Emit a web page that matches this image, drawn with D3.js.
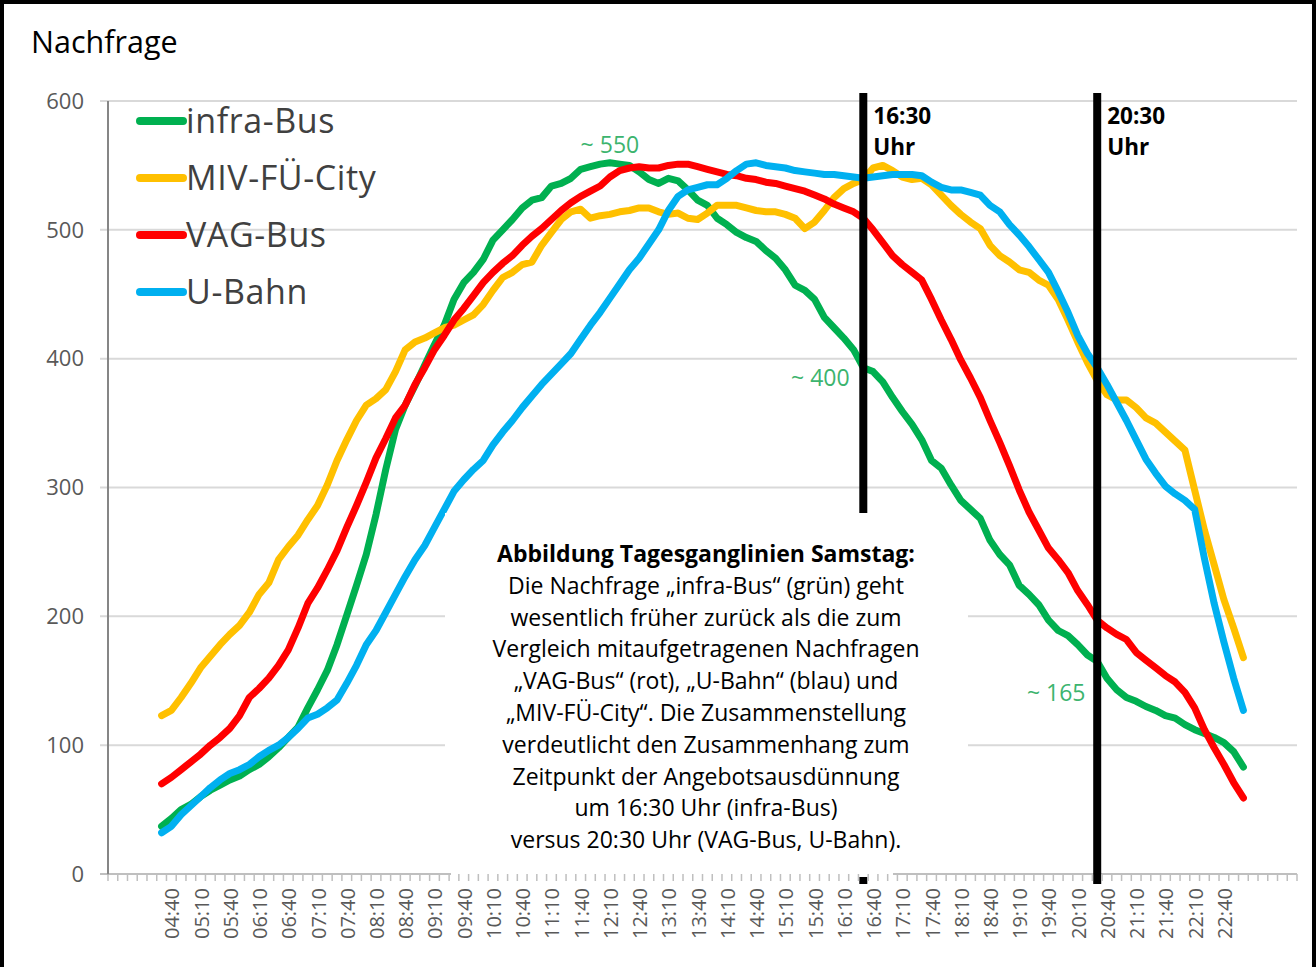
<!DOCTYPE html>
<html><head><meta charset="utf-8">
<script src="https://cdn.jsdelivr.net/npm/d3@7"></script>
<style>
body{margin:0;background:#fff}
svg{display:block}
text{font-family:"Open Sans","Noto Sans",sans-serif}
</style>
</head><body>
<svg id="chart" width="1316" height="967"></svg>
<script>
// ---- data ----
const categories = [
"04:30","04:40","04:50","05:00","05:10","05:20","05:30","05:40","05:50","06:00",
"06:10","06:20","06:30","06:40","06:50","07:00","07:10","07:20","07:30","07:40",
"07:50","08:00","08:10","08:20","08:30","08:40","08:50","09:00","09:10","09:20",
"09:30","09:40","09:50","10:00","10:10","10:20","10:30","10:40","10:50","11:00",
"11:10","11:20","11:30","11:40","11:50","12:00","12:10","12:20","12:30","12:40",
"12:50","13:00","13:10","13:20","13:30","13:40","13:50","14:00","14:10","14:20",
"14:30","14:40","14:50","15:00","15:10","15:20","15:30","15:40","15:50","16:00",
"16:10","16:20","16:30","16:40","16:50","17:00","17:10","17:20","17:30","17:40",
"17:50","18:00","18:10","18:20","18:30","18:40","18:50","19:00","19:10","19:20",
"19:30","19:40","19:50","20:00","20:10","20:20","20:30","20:40","20:50","21:00",
"21:10","21:20","21:30","21:40","21:50","22:00","22:10","22:20","22:30","22:40",
"22:50","23:00"];

const infraBus = [
37,43,50,54,60,65,69,73,76,81,
85,91,98,106,114,129,143,158,178,201,
224,248,279,314,345,364,379,395,411,426,
446,459,467,477,492,500,508,517,523,525,
534,536,540,547,549,551,552,551,550,545,
539,536,540,538,531,523,519,509,504,498,
494,491,484,478,469,457,453,446,432,424,
416,407,393,390,382,370,359,349,337,321,
315,302,290,283,276,259,248,240,224,217,
209,197,189,185,178,170,165,152,143,137,
134,130,127,123,121,116,112,109,106,102,
95,83];

const mivFuCity = [
123,127,137,148,160,169,178,186,193,203,
217,226,244,254,263,275,286,302,321,337,
352,364,369,376,390,407,413,416,420,424,
426,430,434,442,453,463,467,473,475,488,
498,508,514,516,509,511,512,514,515,517,
517,514,512,513,509,508,513,519,519,519,
517,515,514,514,512,509,501,506,515,525,
532,536,539,548,550,546,541,539,540,535,
527,519,512,506,501,488,480,475,469,467,
461,457,446,430,413,397,383,372,368,368,
362,354,350,343,336,329,298,267,240,213,
191,168];

const vagBus = [
70,75,81,87,93,100,106,113,123,137,
144,152,162,174,191,210,222,236,251,269,
286,304,323,338,354,364,380,393,407,418,
430,439,449,459,467,474,480,488,495,501,
508,515,521,526,530,534,541,546,548,549,
548,548,550,551,551,549,547,545,543,542,
540,539,537,536,534,532,530,527,524,520,
517,514,509,500,490,480,473,467,461,446,
430,415,399,385,370,352,335,317,298,281,
267,253,244,234,220,209,197,191,186,182,
172,166,160,154,149,141,129,112,98,85,
71,59];

const uBahn = [
32,37,46,53,60,67,73,78,81,85,
91,96,100,106,113,121,124,129,135,148,
162,178,189,203,217,231,244,255,269,283,
297,306,314,321,333,343,352,362,371,380,
388,396,404,415,426,436,447,458,469,478,
489,500,515,526,531,533,535,535,540,546,
551,552,550,549,548,546,545,544,543,543,
542,541,540,541,542,543,543,543,542,537,
533,531,531,529,527,519,514,504,496,487,
477,467,452,436,418,404,393,380,366,352,
337,322,311,301,295,290,283,245,210,180,
152,127];

const seriesNames = ["infra-Bus","MIV-FÜ-City","VAG-Bus","U-Bahn"];
const seriesColors = ["#00b050","#ffc000","#ff0000","#00b0f0"];
const tickLabels = ["04:40","05:10","05:40","06:10","06:40","07:10","07:40","08:10","08:40","09:10",
"09:40","10:10","10:40","11:10","11:40","12:10","12:40","13:10","13:40","14:10","14:40","15:10",
"15:40","16:10","16:40","17:10","17:40","18:10","18:40","19:10","19:40","20:10","20:40","21:10",
"21:40","22:10","22:40"];
const yTicks = [0,100,200,300,400,500,600];
const markerTimes = ["16:30","20:30"];
const calloutTimes = ["12:10","16:30","20:30"];
const calloutTexts = ["~ 550","~ 400","~ 165"];
const noteLines = [
"Abbildung Tagesganglinien Samstag:",
"Die Nachfrage „infra-Bus“ (grün) geht",
"wesentlich früher zurück als die zum",
"Vergleich mitaufgetragenen Nachfragen",
"„VAG-Bus“ (rot), „U-Bahn“ (blau) und",
"„MIV-FÜ-City“. Die Zusammenstellung",
"verdeutlicht den Zusammenhang zum",
"Zeitpunkt der Angebotsausdünnung",
"um 16:30 Uhr (infra-Bus)",
"versus 20:30 Uhr (VAG-Bus, U-Bahn)."];

// ---- helpers ----
const toMin = s => { const [h,m] = s.split(":").map(Number); return h*60+m; };
const svg = d3.select("#chart");
const x = d3.scaleLinear().domain([215,1435]).range([108,1297]);
const y = d3.scaleLinear().domain([0,600]).range([874,101]);

// frame
svg.append("rect").attr("x",2).attr("y",2).attr("width",1312).attr("height",980)
  .attr("fill","#fff").attr("stroke","#000").attr("stroke-width",4);

// title
svg.append("text").attr("x",31).attr("y",53).attr("font-size",30.5).attr("fill","#000").text("Nachfrage");

// gridlines
svg.append("g").selectAll("line").data(yTicks.filter(d=>d>0)).join("line")
  .attr("x1",100).attr("x2",1297).attr("y1",d=>y(d)).attr("y2",d=>y(d))
  .attr("stroke","#d9d9d9").attr("stroke-width",2);

// y labels
svg.append("g").selectAll("text").data(yTicks).join("text")
  .attr("x",84).attr("y",d=>y(d)).attr("dy","0.35em").attr("text-anchor","end")
  .attr("font-size",22).attr("fill","#595959").text(d=>d);

// axes
svg.append("line").attr("x1",100).attr("x2",1297).attr("y1",y(0)).attr("y2",y(0))
  .attr("stroke","#bfbfbf").attr("stroke-width",2);
svg.append("line").attr("x1",108).attr("x2",108).attr("y1",y(600)).attr("y2",y(0)+1)
  .attr("stroke","#868686").attr("stroke-width",2);

// series
const line = d3.line().x((d,i)=>x(toMin(categories[i]))).y(d=>y(d));
const allSeries = [infraBus, mivFuCity, vagBus, uBahn];
svg.append("g").selectAll("path").data(allSeries).join("path")
  .attr("d",d=>line(d)).attr("fill","none")
  .attr("stroke",(d,i)=>seriesColors[i]).attr("stroke-width",7)
  .attr("stroke-linejoin","round").attr("stroke-linecap","round");

// legend
const lg = svg.append("g");
seriesNames.forEach((n,i)=>{
  const cy = 121 + i*57;
  lg.append("line").attr("x1",140).attr("x2",183).attr("y1",cy).attr("y2",cy)
    .attr("stroke",seriesColors[i]).attr("stroke-width",8).attr("stroke-linecap","round");
  lg.append("text").attr("x",186).attr("y",cy+12).attr("font-size",34).attr("letter-spacing",0.6)
    .attr("fill","#404040").text(n);
});

// marker lines
markerTimes.forEach(t=>{
  const mx = x(toMin(t));
  svg.append("line").attr("x1",mx).attr("x2",mx).attr("y1",93).attr("y2",884)
    .attr("stroke","#000").attr("stroke-width",8);
  svg.append("text").attr("x",mx+10).attr("y",124).attr("font-size",22.5).attr("font-weight","bold").text(t);
  svg.append("text").attr("x",mx+10).attr("y",155).attr("font-size",22.5).attr("font-weight","bold").text("Uhr");
});

// note box
svg.append("rect").attr("x",445).attr("y",513).attr("width",523).attr("height",358).attr("fill","#fff");
svg.append("rect").attr("x",451).attr("y",868).attr("width",442).attr("height",9).attr("fill","#fff");
const note = svg.append("text").attr("text-anchor","middle").attr("font-size",23).attr("fill","#000");
noteLines.forEach((l,i)=>{
  note.append("tspan").attr("x",706).attr("y",562+i*31.8)
    .attr("font-weight",i===0?"bold":"normal").text(l);
});

// x ticks
const tickMins = d3.range(215,1436,10);
svg.append("g").selectAll("line").data(tickMins).join("line")
  .attr("x1",d=>x(d)).attr("x2",d=>x(d)).attr("y1",y(0)).attr("y2",y(0)+7)
  .attr("stroke","#bfbfbf").attr("stroke-width",1.5);

// x labels
svg.append("g").selectAll("text").data(tickLabels).join("text")
  .attr("transform",d=>`translate(${x(toMin(d))+8},888) rotate(-90)`)
  .attr("text-anchor","end").attr("font-size",20).attr("fill","#595959").text(d=>d);

// callouts
const calloutPos = [[0,-10],[-43,18],[-41,40]];
calloutTexts.forEach((t,i)=>{
  const idx = categories.indexOf(calloutTimes[i]);
  const v = infraBus[idx];
  svg.append("text").attr("x",x(toMin(calloutTimes[i]))+calloutPos[i][0]).attr("y",y(v)+calloutPos[i][1])
    .attr("text-anchor","middle").attr("font-size",23).attr("fill","#3cb46e").text(t);
});
</script>
</body></html>
